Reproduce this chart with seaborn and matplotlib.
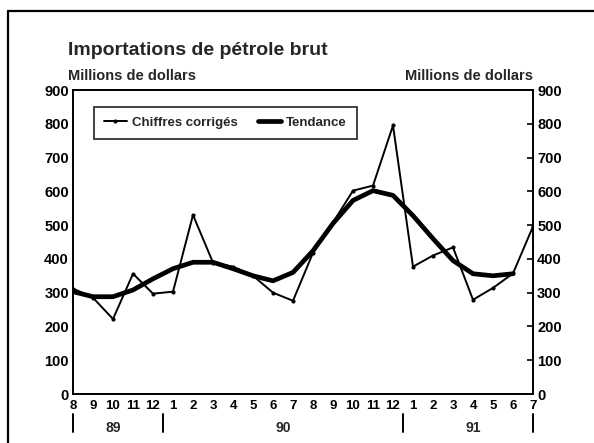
import numpy as np
import pandas as pd
import matplotlib
matplotlib.use("Agg")
import matplotlib.pyplot as plt
import seaborn as sns

# Monthly data, Aug 1989 - Jul 1991 (millions of dollars)
months = ["8", "9", "10", "11", "12", "1", "2", "3", "4", "5", "6", "7",
          "8", "9", "10", "11", "12", "1", "2", "3", "4", "5", "6", "7"]
raw = [312, 285, 222, 356, 297, 303, 530, 389, 377, 350, 300, 276,
       418, 508, 602, 617, 795, 377, 410, 434, 279, 314, 357, 496]
trend = [303, 288, 288, 308, 341, 371, 390, 390, 371, 350, 335, 360,
         424, 505, 573, 602, 588, 528, 460, 395, 356, 350, 356, np.nan]
years = ["89", "90", "91"]
year_centers = [2, 10.5, 20]
year_breaks = [0, 4.5, 16.5, 23]

df = pd.DataFrame({"idx": np.arange(len(months)), "raw": raw, "trend": trend})

sns.set_style("white")
plt.rcParams["font.family"] = ["Liberation Sans", "DejaVu Sans"]
plt.rcParams["font.weight"] = "bold"

fig = plt.figure(figsize=(5.94, 4.43), dpi=100)
ax = fig.add_axes([73 / 594, 1 - 394 / 443, 460 / 594, 304 / 443])

sns.lineplot(data=df, x="idx", y="raw", ax=ax, color="black", linewidth=1.4,
             marker="o", markersize=3, markeredgewidth=0, label="Chiffres corrigés")
sns.lineplot(data=df.dropna(), x="idx", y="trend", ax=ax, color="black",
             linewidth=3.4, label="Tendance")

ax.set_xlim(0, 23)
ax.set_ylim(0, 900)
ax.set_xticks(range(len(months)))
ax.set_xticklabels(months)
ax.set_yticks(range(0, 901, 100))
ax.set_xlabel("")
ax.set_ylabel("")
ax.tick_params(axis="both", direction="in", length=4, width=1.2,
               color="black", labelcolor="black")
ax.tick_params(axis="y", right=True, labelright=True, pad=3, labelsize=10.5)
ax.tick_params(axis="x", pad=4, labelsize=9.5)
for lbl in ax.get_xticklabels() + ax.get_yticklabels():
    lbl.set_fontweight("bold")
for s in ax.spines.values():
    s.set_color("black")
    s.set_linewidth(1.4)

# year labels and separators below the month labels
trans = ax.get_xaxis_transform()
for x in year_breaks:
    ax.plot([x, x], [-0.065, -0.125], transform=trans, color="black",
            linewidth=1.4, clip_on=False)
for x, y in zip(year_centers, years):
    ax.text(x, -0.135, y, transform=trans, ha="center", va="bottom",
            fontsize=10, fontweight="bold")

leg = ax.legend(loc="upper left", bbox_to_anchor=(0.045, 0.945), ncol=2,
                frameon=True, fancybox=False, fontsize=9.5, borderaxespad=0,
                handlelength=1.75, handletextpad=0.4, columnspacing=1.5,
                borderpad=0.75)
leg.get_frame().set_edgecolor("black")
leg.get_frame().set_linewidth(1.3)
for t in leg.get_texts():
    t.set_fontweight("bold")

fig.text(68 / 594, 1 - 55 / 443, "Importations de pétrole brut",
         fontsize=14, fontweight="bold", ha="left", va="baseline")
fig.text(68 / 594, 1 - 80 / 443, "Millions de dollars", fontsize=10.5,
         fontweight="bold", ha="left", va="baseline")
fig.text(533 / 594, 1 - 80 / 443, "Millions de dollars", fontsize=10.5,
         fontweight="bold", ha="right", va="baseline")

# outer frame (top and left edges of the scanned box)
fig.add_artist(plt.Line2D([8 / 594, 8 / 594], [0, 1 - 11 / 443],
                          transform=fig.transFigure, color="black", linewidth=1.6))
fig.add_artist(plt.Line2D([8 / 594, 1], [1 - 11 / 443, 1 - 11 / 443],
                          transform=fig.transFigure, color="black", linewidth=1.6))

fig.savefig("out.png", dpi=100)
